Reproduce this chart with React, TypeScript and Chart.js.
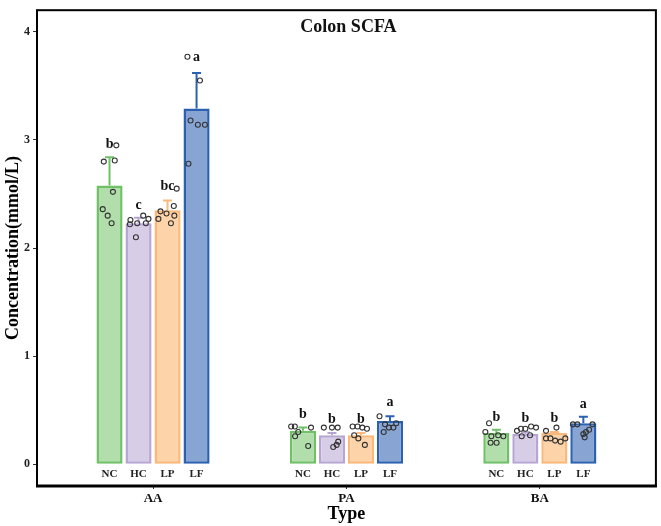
import React, { useEffect, useRef } from 'react';
import { Chart, registerables } from 'chart.js';

Chart.register(...registerables);

// ---- Data ----
const groups = ['AA', 'PA', 'BA'];
const subgroups = ['NC', 'HC', 'LP', 'LF'];

// bar means per group (AA, PA, BA)
const meanNC = [2.58, 0.31, 0.29];
const meanHC = [2.23, 0.27, 0.28];
const meanLP = [2.35, 0.27, 0.29];
const meanLF = [3.29, 0.40, 0.38];

// upper end of error bars (mean + SD)
const errNC = [2.84, 0.34, 0.32];
const errHC = [2.28, 0.29, 0.30];
const errLP = [2.44, 0.29, 0.30];
const errLF = [3.62, 0.445, 0.44];

// significance letters and their heights
const lettersNC = ['b', 'b', 'b'];
const lettersHC = ['c', 'b', 'b'];
const lettersLP = ['bc', 'b', 'b'];
const lettersLF = ['a', 'a', 'a'];
const letterYNC = [2.93, 0.43, 0.40];
const letterYHC = [2.36, 0.38, 0.39];
const letterYLP = [2.54, 0.38, 0.39];
const letterYLF = [3.73, 0.54, 0.52];

// individual sample values per group
const pointsNC = [
  [2.80, 2.81, 2.52, 2.36, 2.30, 2.23, 2.95],
  [0.35, 0.35, 0.30, 0.34, 0.26, 0.17],
  [0.38, 0.30, 0.26, 0.27, 0.26, 0.20, 0.20],
];
const pointsHC = [
  [2.26, 2.22, 2.23, 2.30, 2.27, 2.23, 2.10],
  [0.34, 0.34, 0.34, 0.21, 0.16, 0.18],
  [0.31, 0.33, 0.33, 0.35, 0.34, 0.26, 0.27],
];
const pointsLP = [
  [2.27, 2.34, 2.32, 2.39, 2.30, 2.23, 2.55],
  [0.35, 0.35, 0.34, 0.33, 0.27, 0.24, 0.18],
  [0.31, 0.34, 0.24, 0.24, 0.22, 0.21, 0.24],
];
const pointsLF = [
  [3.77, 3.55, 3.18, 3.14, 3.14, 2.78],
  [0.445, 0.37, 0.34, 0.34, 0.38, 0.30],
  [0.37, 0.37, 0.37, 0.30, 0.32, 0.28, 0.25],
];

// horizontal jitter of each sample (fraction of bar width)
const jitterNC = [
  [-0.22, 0.20, 0.13, -0.26, -0.07, 0.08, 0.26],
  [-0.45, -0.31, -0.18, 0.31, -0.30, 0.20],
  [-0.28, -0.42, -0.19, 0.07, 0.27, -0.22, 0.01],
];
const jitterHC = [
  [-0.31, -0.33, -0.05, 0.18, 0.38, 0.28, -0.10],
  [-0.31, 0.0, 0.22, 0.24, 0.05, 0.18],
  [-0.32, -0.17, 0.0, 0.22, 0.41, -0.14, 0.18],
];
const jitterLP = [
  [-0.35, -0.27, -0.04, 0.24, 0.26, 0.13, 0.35],
  [-0.32, -0.13, 0.05, 0.23, -0.26, -0.10, 0.15],
  [-0.32, 0.08, -0.32, -0.15, 0.03, 0.24, 0.42],
];
const jitterLF = [
  [-0.35, 0.13, -0.23, 0.05, 0.32, -0.31],
  [-0.40, -0.19, -0.04, 0.13, 0.24, -0.24],
  [-0.40, -0.23, 0.35, 0.10, 0.22, 0.0, 0.05],
];

const yTicks = [0, 1, 2, 3, 4];

// ---- Styles ----
const FONT = "'Liberation Serif', 'Times New Roman', serif";
const fills = ['#b1deab', '#d8cde6', '#fdd4a9', '#87a4d2'];
const borders = ['#6fc067', '#b7a6d3', '#fbb878', '#2c60b0'];
const STEP = 0.15; // x spacing between bars within a group
const BAR_PCT = 0.9;

const means = [meanNC, meanHC, meanLP, meanLF];
const errs = [errNC, errHC, errLP, errLF];
const letters = [lettersNC, lettersHC, lettersLP, lettersLF];
const letterYs = [letterYNC, letterYHC, letterYLP, letterYLF];
const points = [pointsNC, pointsHC, pointsLP, pointsLF];
const jitters = [jitterNC, jitterHC, jitterLP, jitterLF];

const barX = (g: number, j: number) => g + 1 + (j - 1.5) * STEP;

const overlayPlugin = {
  id: 'overlay',
  afterDatasetDraw(chart: any, args: any) {
    const meta = args.meta;
    if (meta.type !== 'bar') return;
    const j = meta._dataset.subIndex;
    const { ctx, scales } = chart;
    const x = scales.x;
    const y = scales.y;
    ctx.save();
    ctx.strokeStyle = borders[j];
    ctx.lineWidth = 2;
    groups.forEach((_, g) => {
      const px = x.getPixelForValue(barX(g, j));
      const y0 = y.getPixelForValue(means[j][g]);
      const y1 = y.getPixelForValue(errs[j][g]);
      ctx.beginPath();
      ctx.moveTo(px, y0);
      ctx.lineTo(px, y1);
      ctx.moveTo(px - 4.5, y1);
      ctx.lineTo(px + 4.5, y1);
      ctx.stroke();
    });
    ctx.restore();
  },
  afterDraw(chart: any) {
    const { ctx, chartArea, scales } = chart;
    const x = scales.x;
    const y = scales.y;
    ctx.save();
    // letters
    ctx.fillStyle = '#111';
    ctx.textAlign = 'center';
    ctx.textBaseline = 'alphabetic';
    ctx.font = `bold 14px ${FONT}`;
    subgroups.forEach((_, j) => {
      groups.forEach((__, g) => {
        ctx.fillText(letters[j][g], x.getPixelForValue(barX(g, j)), y.getPixelForValue(letterYs[j][g]));
      });
    });
    // sub labels under bars
    ctx.font = `bold 11px ${FONT}`;
    ctx.fillStyle = '#222';
    ctx.textBaseline = 'middle';
    subgroups.forEach((name, j) => {
      groups.forEach((__, g) => {
        ctx.fillText(name, x.getPixelForValue(barX(g, j)), y.getPixelForValue(0) + 10);
      });
    });
    // title
    ctx.font = `bold 18px ${FONT}`;
    ctx.fillStyle = '#111';
    ctx.textBaseline = 'alphabetic';
    ctx.fillText('Colon SCFA', (chartArea.left + chartArea.right) / 2 + 2, chartArea.top + 22);
    // frame
    ctx.strokeStyle = '#000';
    ctx.lineWidth = 2;
    ctx.strokeRect(chartArea.left, chartArea.top, chartArea.right - chartArea.left, chartArea.bottom - chartArea.top);
    ctx.lineWidth = 3;
    ctx.beginPath();
    ctx.moveTo(chartArea.left - 1, chartArea.bottom);
    ctx.lineTo(chartArea.right + 1, chartArea.bottom);
    ctx.stroke();
    ctx.restore();
  },
};

export default function App() {
  const ref = useRef<HTMLCanvasElement | null>(null);

  useEffect(() => {
    if (!ref.current) return;
    const datasets: any[] = [];
    subgroups.forEach((name, j) => {
      datasets.push({
        type: 'bar',
        label: name,
        subIndex: j,
        data: groups.map((_, g) => ({ x: barX(g, j), y: means[j][g] })),
        backgroundColor: fills[j],
        borderColor: borders[j],
        borderWidth: 2.5,
        borderSkipped: false,
        grouped: false,
        barPercentage: BAR_PCT,
        categoryPercentage: 1,
        order: 2,
      });
    });
    subgroups.forEach((name, j) => {
      const data: any[] = [];
      groups.forEach((_, g) => {
        points[j][g].forEach((v, k) => {
          data.push({ x: barX(g, j) + jitters[j][g][k] * STEP * BAR_PCT, y: v });
        });
      });
      datasets.push({
        type: 'scatter',
        label: name + ' samples',
        data,
        pointRadius: 2.5,
        pointBorderWidth: 1.1,
        pointBorderColor: '#333',
        pointBackgroundColor: 'rgba(0,0,0,0)',
        order: 0,
      });
    });

    const chart = new Chart(ref.current, {
      type: 'bar',
      data: { datasets },
      plugins: [overlayPlugin],
      options: {
        animation: false,
        responsive: false,
        maintainAspectRatio: false,
        layout: { padding: { top: 8, right: 5, left: 0, bottom: 0 } },
        plugins: { legend: { display: false }, tooltip: { enabled: false }, title: { display: false } },
        scales: {
          x: {
            type: 'linear',
            min: 0.4,
            max: 3.6,
            offset: false,
            afterBuildTicks: (s: any) => {
              s.ticks = groups.map((_, i) => ({ value: i + 1 }));
            },
            afterFit: (s: any) => {
              s.height = 40;
            },
            border: { display: false },
            grid: { offset: false, drawOnChartArea: false, drawTicks: true, tickLength: 3, color: '#333', lineWidth: 1 },
            ticks: {
              callback: (_v: any, i: number) => groups[i],
              font: { family: FONT, weight: 'bold', size: 13 },
              color: '#111',
              padding: 2,
              maxRotation: 0,
              autoSkip: false,
            },
            title: {
              display: true,
              text: 'Type',
              font: { family: FONT, weight: 'bold', size: 18 },
              color: '#000',
              padding: { top: 0, bottom: 1 },
            },
          },
          y: {
            type: 'linear',
            min: -0.2,
            max: 4.2,
            afterBuildTicks: (s: any) => {
              s.ticks = yTicks.map((v) => ({ value: v }));
            },
            afterFit: (s: any) => {
              s.width = 37;
            },
            border: { display: false },
            grid: { drawOnChartArea: false, drawTicks: true, tickLength: 4, color: '#333', lineWidth: 1 },
            ticks: {
              font: { family: FONT, weight: 'bold', size: 12 },
              color: '#222',
              padding: 3,
            },
            title: {
              display: true,
              text: 'Concentration(mmol/L)',
              font: { family: FONT, weight: 'bold', size: 18 },
              color: '#000',
              padding: { top: 3, bottom: 0 },
            },
          },
        },
      } as any,
    });
    return () => chart.destroy();
  }, []);

  return (
    <div style={{ position: 'absolute', left: 0, top: 0, width: 661, height: 526, background: '#fff' }}>
      <canvas ref={ref} width={661} height={526} style={{ width: 661, height: 526, display: 'block' }} />
    </div>
  );
}
